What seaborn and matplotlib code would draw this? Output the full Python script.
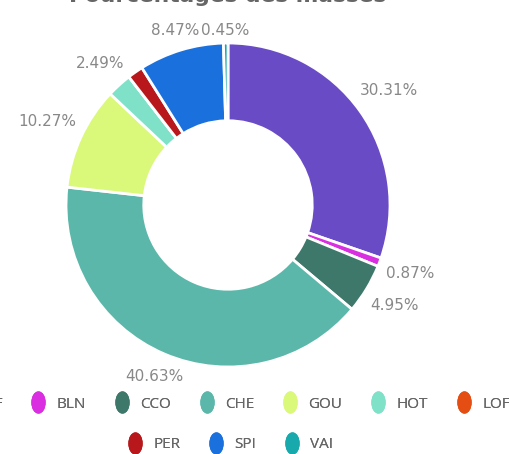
import numpy as np
import matplotlib
matplotlib.use('Agg')
import matplotlib.pyplot as plt
import seaborn as sns
from matplotlib.path import Path
from matplotlib.transforms import Affine2D
from matplotlib.lines import Line2D

sns.set_theme(style='white')
plt.rcParams['font.family'] = ['DejaVu Sans']

# data
names = ['ALF', 'BLN', 'CCO', 'CHE', 'GOU', 'HOT', 'LOF', 'PER', 'SPI', 'VAI']
values = [30.31, 0.87, 4.95, 40.63, 10.27, 2.49, 0.0, 1.56, 8.47, 0.45]
colors = ['#6A4BC6', '#D92FE0', '#3D786A', '#5BB7A9', '#DAF97A',
          '#80E1C9', '#E44E12', '#B8181B', '#1A70DC', '#17A9AB']
hidden = ['LOF', 'PER']

W, H = 509, 454
fig = plt.figure(figsize=(W / 100, H / 100), dpi=100)
R = 162.0  # pixels per data unit
cx, cy = 228, 205
ax = fig.add_axes([0, 0, 456 / W, 1])
ax.axis('off')

ax.pie(values, colors=colors, startangle=90, counterclock=False, radius=1,
       wedgeprops=dict(width=0.48, edgecolor='white', linewidth=2))
ax.set_xlim(-cx / R, (456 - cx) / R)
ax.set_ylim(-(H - cy) / R, cy / R)

# percentage labels
total = sum(values)
cum = np.cumsum(values)
for name, v, c in zip(names, values, cum):
    if name in hidden:
        continue
    txt = f'{v:.2f}%'
    ang = np.deg2rad(90 - 360 * (c - v / 2) / total)
    w = 10.5 * len(txt)
    h = 12
    r = 1.04 + (w / 2 * abs(np.cos(ang)) + h / 2 * abs(np.sin(ang))) / R
    ax.text(r * np.cos(ang), r * np.sin(ang), txt, ha='center', va='center',
            fontsize=11, color='#888888')

fig.text(cx / W, 1 - 2 / H, 'Pourcentages des masses', ha='center', va='baseline',
         fontsize=15.7, fontweight='bold', color='#666666')

# legend (two centred rows)
ell = Path.unit_circle().transformed(Affine2D().scale(0.62, 1.0))
handles = [Line2D([], [], linestyle='none', marker=ell, markersize=15,
                  markerfacecolor=col, markeredgecolor=col) for col in colors]
rows = [(0, 7, 404), (7, 10, 445)]
for a, b, y in rows:
    leg = fig.legend(handles[a:b], names[a:b], ncol=b - a, loc='center',
                     bbox_to_anchor=(231 / W, 1 - y / H), frameon=False,
                     prop={'family': 'Open Sans', 'size': 11},
                     handlelength=0.8, handletextpad=0.8, columnspacing=1.95,
                     borderpad=0, labelcolor='#666666')
    fig.add_artist(leg)

fig.savefig('out.png', dpi=100)
